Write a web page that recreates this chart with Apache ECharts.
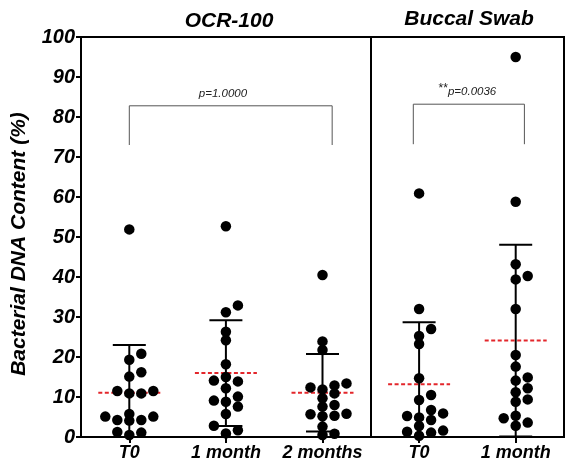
<!DOCTYPE html>
<html>
<head>
<meta charset="utf-8">
<script src="https://cdn.jsdelivr.net/npm/echarts@6/dist/echarts.min.js"></script>
<style>
  html, body { margin: 0; padding: 0; background: #fff; }
  #chart { width: 566px; height: 466px; }
</style>
</head>
<body>
<div id="chart"></div>
<script>
// groups along x
const groupNames = ['T0', '1 month', '2 months', 'T0', '1 month']
const panelTitles = ['OCR-100', 'Buccal Swab']

// bacterial DNA content (%) per subject
const ocrT0 = [51.9, 20.8, 19.3, 16.2, 15.1, 11.5, 10.9, 10.9, 11.5, 5.1, 5.75, 4.25, 4.1, 4.25, 5.1, 1.25, 0.5, 1.1]
const ocr1m = [52.7, 32.9, 31.2, 26.3, 24.2, 18.2, 15.0, 13.9, 14.1, 12.2, 10.1, 8.8, 9.1, 7.6, 5.75, 2.8, 1.7, 0.9]
const ocr2m = [40.5, 23.9, 21.75, 13.4, 12.9, 11.9, 12.4, 10.9, 9.7, 8.0, 7.6, 5.8, 5.3, 5.2, 5.7, 2.6, 0.5, 0.8]
const bucT0 = [60.9, 32.0, 27.0, 25.25, 23.25, 14.7, 10.5, 9.25, 6.75, 5.9, 4.9, 5.25, 4.25, 2.75, 1.3, 1.1, 1.6, 0.3]
const buc1m = [95.0, 58.8, 43.2, 40.25, 39.4, 32.0, 20.5, 17.6, 14.9, 14.1, 12.2, 11.2, 9.4, 8.8, 4.7, 2.8, 3.6, 5.3]
const groups = [ocrT0, ocr1m, ocr2m, bucT0, buc1m]

// comparisons: [from x, to x, top y, bottom y]
const brackets = [[0, 2.1, 82.8, 73], [2.94, 4.09, 83.2, 73.2]]
const pLabels = ['p=1.0000', 'p=0.0036']
const pStars = ['', '**']
const pLabelX = [0.97, 3.5]

const FONT = 'Liberation Sans, Arial, sans-serif'
const GRID = { left: 81, right: 2, top: 37, bottom: 29 }
const PX_X = (566 - GRID.left - GRID.right) / 5   // px per group
const PX_Y = (466 - GRID.top - GRID.bottom) / 100 // px per %
const SLOT_PX = 12

const mean = a => a.reduce((s, v) => s + v, 0) / a.length
const sd = a => {
  const m = mean(a)
  return Math.sqrt(a.reduce((s, v) => s + (v - m) * (v - m), 0) / (a.length - 1))
}

// simple beeswarm so overlapping dots spread sideways
const swarm = (values, gi) => {
  const sorted = values.slice().sort((a, b) => a - b)
  const placed = []
  const order = [0, 1, -1, 2, -2]
  sorted.forEach(v => {
    let best = 0, bestD = -1
    for (const s of order) {
      let md = Infinity
      placed.forEach(p => {
        md = Math.min(md, Math.hypot((s - p.s) * SLOT_PX, (v - p.v) * PX_Y))
      })
      if (md >= 8) { best = s; break }
      if (md > bestD) { bestD = md; best = s }
    }
    placed.push({ s: best, v })
  })
  return placed.map(p => [gi + p.s * SLOT_PX / PX_X, p.v])
}

const dots = []
groups.forEach((g, i) => dots.push(...swarm(g, i)))
const stats = groups.map((g, i) => [i, mean(g), sd(g)])

const chart = echarts.init(document.getElementById('chart'))

chart.setOption({
  animation: false,
  title: [
    { text: panelTitles[0], left: 224, top: 6, textAlign: 'center',
      textStyle: { fontFamily: FONT, fontSize: 21, fontWeight: 'bold', fontStyle: 'italic', color: '#000' } },
    { text: panelTitles[1], left: 464, top: 4, textAlign: 'center',
      textStyle: { fontFamily: FONT, fontSize: 21, fontWeight: 'bold', fontStyle: 'italic', color: '#000' } }
  ],
  grid: { ...GRID, show: true, borderColor: '#000', borderWidth: 2 },
  xAxis: {
    type: 'value', min: -0.5, max: 4.5,
    splitLine: { show: false },
    axisLine: { onZero: false, lineStyle: { color: '#000', width: 2 } },
    axisTick: { customValues: [0, 1, 2, 3, 4], length: 6, lineStyle: { color: '#000', width: 2 } },
    axisLabel: {
      customValues: [0, 1, 2, 3, 4],
      formatter: v => groupNames[Math.round(v)],
      margin: 7,
      color: '#000', fontFamily: FONT, fontSize: 18, fontWeight: 'bold', fontStyle: 'italic'
    }
  },
  yAxis: {
    type: 'value', min: 0, max: 100, interval: 10,
    name: 'Bacterial DNA Content (%)',
    nameLocation: 'middle', nameGap: 51,
    nameTextStyle: { color: '#000', fontFamily: FONT, fontSize: 21, fontWeight: 'bold', fontStyle: 'italic',
      padding: [0, 14, 0, 0] },
    splitLine: { show: false },
    axisLine: { show: true, onZero: false, lineStyle: { color: '#000', width: 2 } },
    axisTick: { show: true, length: 5, lineStyle: { color: '#000', width: 2 } },
    axisLabel: { margin: 6, color: '#000', fontFamily: FONT, fontSize: 20, fontWeight: 'bold', fontStyle: 'italic' }
  },
  series: [
    {
      // mean (red dashed) and SD error bars
      type: 'custom',
      data: stats,
      z: 2,
      renderItem: (params, api) => {
        const i = api.value(0), m = api.value(1), s = api.value(2)
        const top = api.coord([i, m + s])
        const low = api.coord([i, Math.max(0, m - s)])
        const mid = api.coord([i, m])
        const children = [
          { type: 'line', shape: { x1: top[0], y1: top[1], x2: low[0], y2: low[1] },
            style: { stroke: '#000', lineWidth: 2 } },
          { type: 'line', shape: { x1: top[0] - 16.5, y1: top[1], x2: top[0] + 16.5, y2: top[1] },
            style: { stroke: '#000', lineWidth: 2 } },
          { type: 'line', shape: { x1: mid[0] - 31, y1: mid[1], x2: mid[0] + 31, y2: mid[1] },
            style: { stroke: '#e3262b', lineWidth: 2, lineDash: [4, 2.5] } }
        ]
        if (m - s >= 0) {
          children.push({ type: 'line', shape: { x1: low[0] - 16.5, y1: low[1], x2: low[0] + 16.5, y2: low[1] },
            style: { stroke: '#000', lineWidth: 2 } })
        }
        return { type: 'group', children }
      }
    },
    {
      type: 'scatter',
      data: dots,
      symbolSize: 10.5,
      itemStyle: { color: '#000', opacity: 1 },
      z: 3,
      markLine: {
        silent: true, symbol: 'none', label: { show: false },
        lineStyle: { color: '#000', width: 2, type: 'solid' },
        data: [{ xAxis: 2.5 }]
      }
    },
    {
      // significance brackets
      type: 'custom',
      data: brackets.map((b, k) => [...b, k]),
      z: 1,
      renderItem: (params, api) => {
        const k = api.value(4)
        const a = api.coord([api.value(0), api.value(3)])
        const b = api.coord([api.value(0), api.value(2)])
        const c = api.coord([api.value(1), api.value(2)])
        const d = api.coord([api.value(1), api.value(3)])
        const t = api.coord([pLabelX[k], api.value(2)])
        return {
          type: 'group',
          children: [
            { type: 'polyline', shape: { points: [a, b, c, d] },
              style: { stroke: '#555', lineWidth: 1, fill: null } },
            { type: 'text', x: t[0], y: t[1] - 6,
              style: {
                text: (pStars[k] ? '{s|' + pStars[k] + '}' : '') + '{p|' + pLabels[k] + '}',
                align: 'center', verticalAlign: 'bottom',
                rich: {
                  s: { fontFamily: FONT, fontSize: 12, fill: '#222', verticalAlign: 'top', lineHeight: 16 },
                  p: { fontFamily: FONT, fontSize: 11.5, fontStyle: 'italic', fill: '#222', verticalAlign: 'bottom', lineHeight: 16 }
                }
              } }
          ]
        }
      }
    }
  ]
})
</script>
</body>
</html>
